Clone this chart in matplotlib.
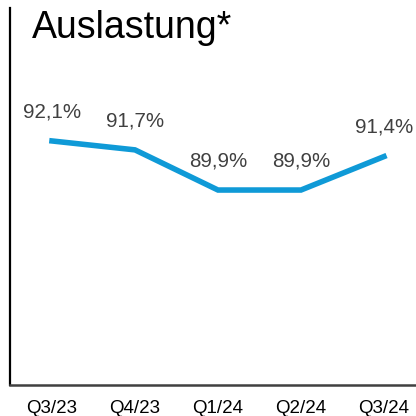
import matplotlib.pyplot as plt

# data
quarters = ["Q3/23", "Q4/23", "Q1/24", "Q2/24", "Q3/24"]
values = [92.1, 91.7, 89.9, 89.9, 91.4]
labels = ["92,1%", "91,7%", "89,9%", "89,9%", "91,4%"]

plt.rcParams['font.family'] = ['Liberation Sans', 'DejaVu Sans']

fig = plt.figure(figsize=(4.16, 4.16), dpi=100)
ax = fig.add_axes([10 / 416, 1 - 385 / 416, 406 / 416, 377 / 416])

x = list(range(len(quarters)))
ax.plot(x, values, color='#0f9ad7', lw=4, solid_joinstyle='miter')

for xi, v, lab in zip(x, values, labels):
    ax.annotate(lab, (xi, v), xytext=(0, 21), textcoords='offset points',
                ha='center', va='center', fontsize=14.8, color='#404040')

ax.set_xlim(-0.506, 4.386)
ax.set_ylim(81.16, 98.06)
ax.set_xticks(x)
ax.set_xticklabels(quarters, fontsize=13.5)
ax.tick_params(axis='x', length=0, pad=11)
ax.set_yticks([])

ax.spines['top'].set_visible(False)
ax.spines['right'].set_visible(False)
ax.spines['left'].set_linewidth(1.6)
ax.spines['left'].set_color('black')
ax.spines['bottom'].set_linewidth(1.8)
ax.spines['bottom'].set_color('#404040')

fig.text(32 / 416, 1 - 38 / 416, "Auslastung*", fontsize=27, ha='left',
         va='baseline', color='black')

fig.savefig('out.png', dpi=100)
